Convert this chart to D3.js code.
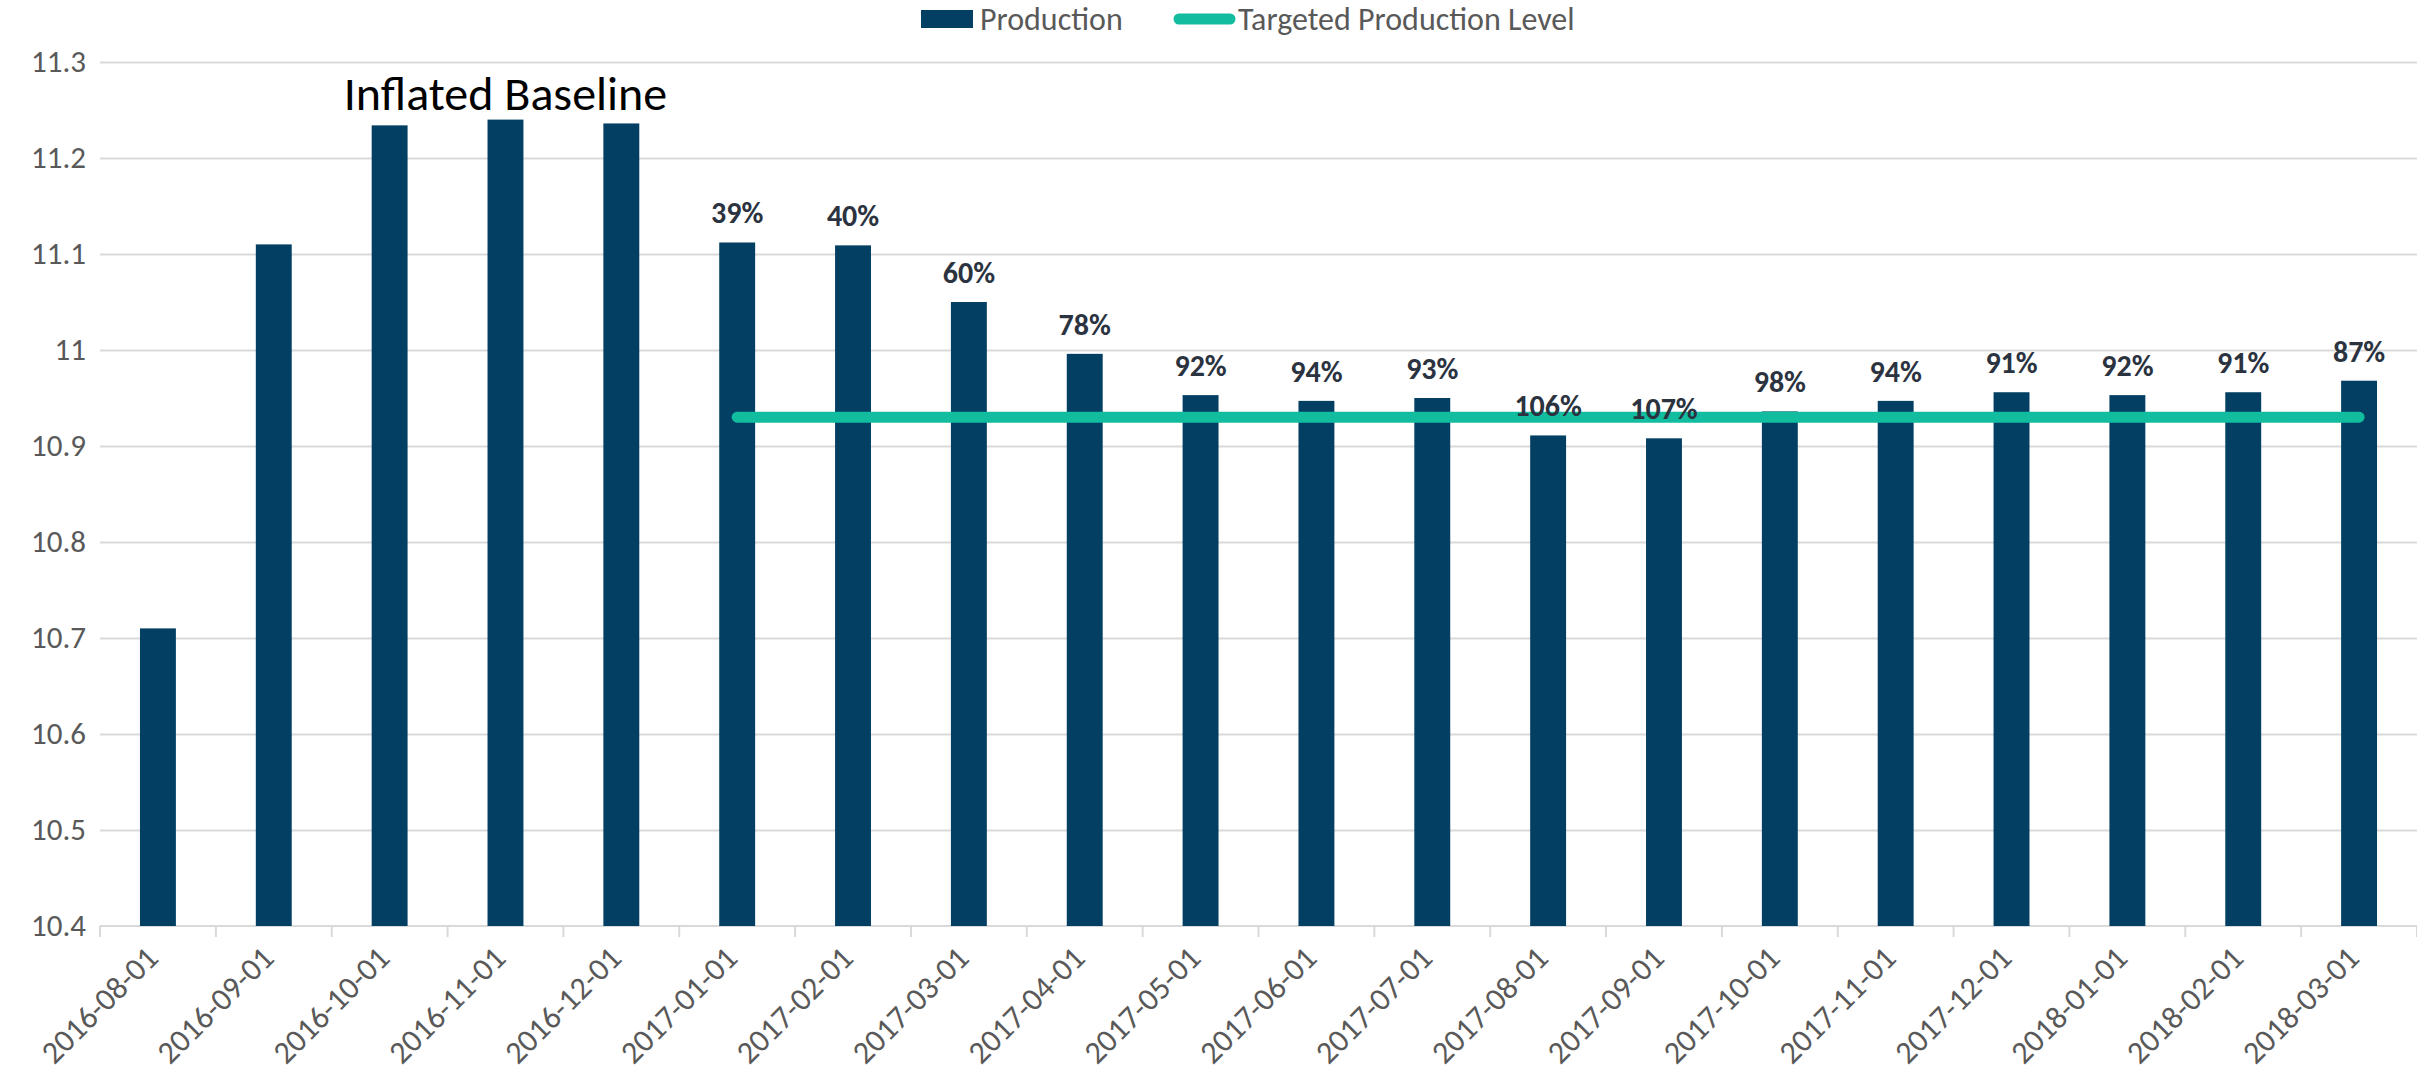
<!DOCTYPE html>
<html>
<head>
<meta charset="utf-8">
<script src="https://cdn.jsdelivr.net/npm/d3@7"></script>
<style>
  body { margin: 0; background: #fff; }
  text { font-family: Carlito, "Liberation Sans", Arial, sans-serif; }
</style>
</head>
<body>
<div id="chart"></div>
<script>
var svgWidth = 2417;
var svgHeight = 1075;

// Data
var months = ["2016-08-01", "2016-09-01", "2016-10-01", "2016-11-01", "2016-12-01",
  "2017-01-01", "2017-02-01", "2017-03-01", "2017-04-01", "2017-05-01",
  "2017-06-01", "2017-07-01", "2017-08-01", "2017-09-01", "2017-10-01",
  "2017-11-01", "2017-12-01", "2018-01-01", "2018-02-01", "2018-03-01"];
var production = [10.71, 11.11, 11.234, 11.24, 11.236,
  11.112, 11.109, 11.05, 10.996, 10.953,
  10.947, 10.95, 10.911, 10.908, 10.936,
  10.947, 10.956, 10.953, 10.956, 10.968];
var pctLabels = [null, null, null, null, null,
  "39%", "40%", "60%", "78%", "92%",
  "94%", "93%", "106%", "107%", "98%",
  "94%", "91%", "92%", "91%", "87%"];
var targetLevel = 10.93;
var targetFrom = "2017-01-01";
var targetTo = "2018-03-01";
var yTicks = [10.4, 10.5, 10.6, 10.7, 10.8, 10.9, 11, 11.1, 11.2, 11.3];

var margin = { top: 62, right: 0, bottom: 149, left: 100 };
var width = svgWidth - margin.left - margin.right;
var height = svgHeight - margin.top - margin.bottom;

var barColor = "#023f63";
var targetColor = "#12bc9e";
var textGray = "#595959";
var gridColor = "#d9d9d9";

var svg = d3.select("#chart")
  .append("svg")
  .attr("width", svgWidth)
  .attr("height", svgHeight);

var chart = svg.append("g")
  .attr("transform", `translate(${margin.left}, ${margin.top})`);

// Scales
var x = d3.scaleBand()
  .domain(months)
  .range([0, width])
  .padding(0);

var y = d3.scaleLinear()
  .domain([10.4, 11.3])
  .range([height, 0]);

var barW = x.bandwidth() * 0.31;

// Y axis with gridlines
var leftAxis = d3.axisLeft(y)
  .tickValues(yTicks)
  .tickSize(-width)
  .tickPadding(14)
  .tickFormat(d => String(+d.toFixed(1)));

var yAxis = chart.append("g").call(leftAxis);
yAxis.select(".domain").remove();
yAxis.selectAll(".tick line")
  .attr("stroke", gridColor)
  .attr("stroke-width", 2);
yAxis.selectAll(".tick text")
  .attr("fill", textGray)
  .attr("font-size", "31px");
yAxis.selectAll(".tick").filter(d => d === 10.4).select("line").remove();

// X axis
var bottomAxis = d3.axisBottom(x).tickSize(0);
var xAxis = chart.append("g")
  .attr("transform", `translate(0, ${height})`)
  .call(bottomAxis);
xAxis.select(".domain").remove();
xAxis.selectAll(".tick text")
  .attr("fill", textGray)
  .attr("font-size", "32px")
  .attr("text-anchor", "end")
  .attr("transform", "translate(-6, 26) rotate(-45)")
  .attr("dy", "0.35em")
  .attr("y", 0);

chart.append("line")
  .attr("x1", 0).attr("x2", width)
  .attr("y1", height).attr("y2", height)
  .attr("stroke", gridColor)
  .attr("stroke-width", 2);

// tick marks between categories
chart.append("g")
  .selectAll("line")
  .data(months.map(m => x(m)).concat([width]))
  .enter()
  .append("line")
  .attr("x1", d => d).attr("x2", d => d)
  .attr("y1", height).attr("y2", height + 11)
  .attr("stroke", gridColor)
  .attr("stroke-width", 2);

// Bars
chart.append("g")
  .selectAll("rect")
  .data(months)
  .enter()
  .append("rect")
  .attr("x", (d) => x(d) + (x.bandwidth() - barW) / 2)
  .attr("y", (d, i) => y(production[i]))
  .attr("width", barW)
  .attr("height", (d, i) => height - y(production[i]))
  .attr("fill", barColor);

// Target line
chart.append("line")
  .attr("x1", x(targetFrom) + x.bandwidth() / 2)
  .attr("x2", x(targetTo) + x.bandwidth() / 2)
  .attr("y1", y(targetLevel))
  .attr("y2", y(targetLevel))
  .attr("stroke", targetColor)
  .attr("stroke-width", 11)
  .attr("stroke-linecap", "round");

// Percentage labels
chart.append("g")
  .selectAll("text")
  .data(months)
  .enter()
  .filter((d, i) => pctLabels[i] !== null)
  .append("text")
  .attr("x", d => x(d) + x.bandwidth() / 2)
  .attr("y", d => y(production[months.indexOf(d)]) - 19)
  .attr("text-anchor", "middle")
  .attr("font-size", "30px")
  .attr("font-weight", "bold")
  .attr("fill", "#2b3340")
  .text(d => pctLabels[months.indexOf(d)]);

// Annotation
chart.append("text")
  .attr("x", x("2016-11-01") + x.bandwidth() / 2)
  .attr("y", 110 - margin.top)
  .attr("text-anchor", "middle")
  .attr("font-size", "48px")
  .attr("fill", "#000")
  .text("Inflated Baseline");

// Legend
var legend = svg.append("g");
legend.append("rect")
  .attr("x", 921).attr("y", 10)
  .attr("width", 52).attr("height", 18)
  .attr("fill", barColor);
legend.append("text")
  .attr("x", 980).attr("y", 30)
  .attr("font-size", "32px")
  .attr("fill", textGray)
  .text("Production");
legend.append("line")
  .attr("x1", 1179).attr("x2", 1230)
  .attr("y1", 19).attr("y2", 19)
  .attr("stroke", targetColor)
  .attr("stroke-width", 11)
  .attr("stroke-linecap", "round");
legend.append("text")
  .attr("x", 1238).attr("y", 30)
  .attr("font-size", "32px")
  .attr("fill", textGray)
  .text("Targeted Production Level");
</script>
</body>
</html>
